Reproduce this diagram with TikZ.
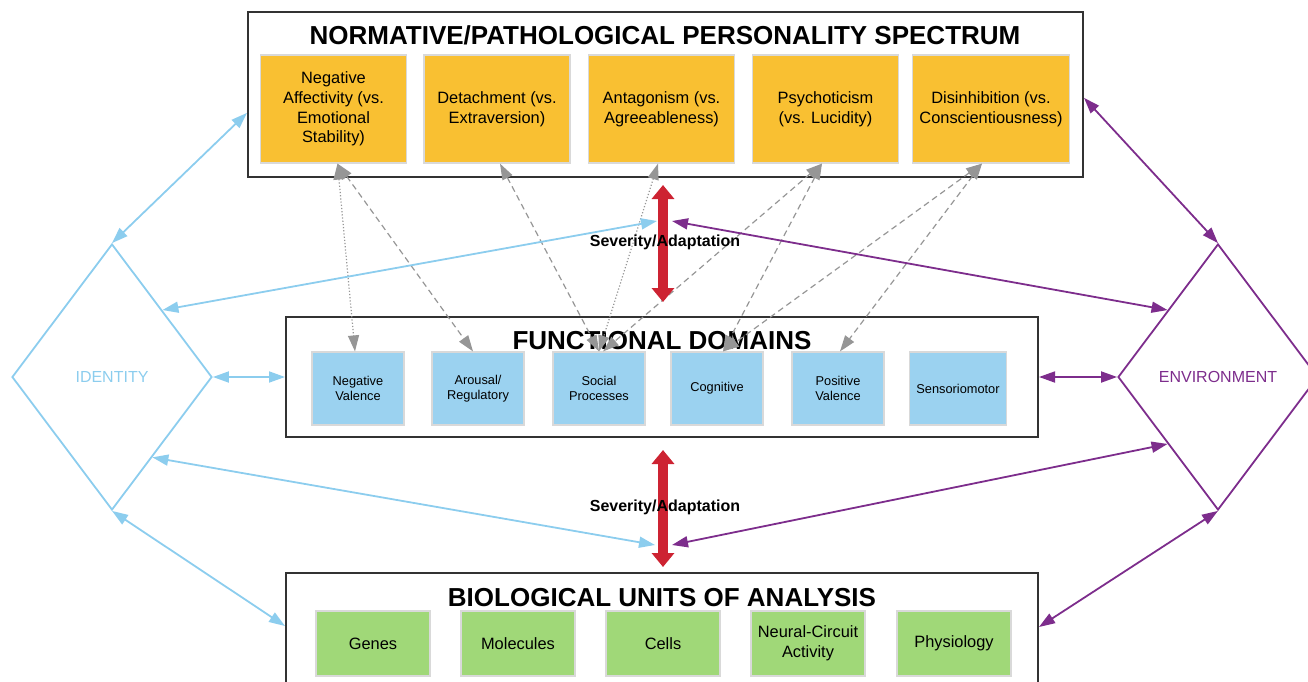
\documentclass[tikz,border=0pt]{standalone}
\usepackage{fontspec}
\setmainfont{Liberation Sans}
\usetikzlibrary{shapes.geometric,arrows.meta,calc}

\definecolor{traitfill}{RGB}{249,192,50}
\definecolor{domainfill}{RGB}{155,210,240}
\definecolor{unitfill}{RGB}{160,216,120}
\definecolor{idblue}{RGB}{140,205,238}
\definecolor{envpurple}{RGB}{125,45,140}
\definecolor{sevred}{RGB}{205,35,50}
\definecolor{linkgray}{RGB}{150,150,150}

\begin{document}
\begin{tikzpicture}[x=0.5pt,y=-0.5pt,
    framebox/.style={draw=black!80, line width=1pt, minimum width=376pt},
    heading/.style={font=\fontsize{13}{15}\selectfont\bfseries},
    traitbox/.style={fill=traitfill, draw=black!15, line width=0.6pt, minimum width=73pt, minimum height=54pt, align=center, font=\fontsize{8.2}{9.8}\selectfont},
    dombox/.style={fill=domainfill, draw=black!15, line width=0.6pt, minimum width=46pt, minimum height=36.5pt, align=center, font=\fontsize{6.4}{7.6}\selectfont},
    unitbox/.style={fill=unitfill, draw=black!15, line width=0.6pt, minimum width=57pt, minimum height=32.5pt, align=center, font=\fontsize{8.2}{9.8}\selectfont},
    ctxshape/.style={diamond, aspect=0.75, line width=0.9pt, minimum width=100pt, minimum height=133pt, font=\fontsize{8}{9}\selectfont},
    linkarrow/.style={<->, >={Triangle[length=8pt,width=5.5pt]}, draw=linkgray, line width=0.6pt, densely dashed},
    idarrow/.style={<->, >={Triangle[length=8pt,width=5.5pt]}, draw=idblue, line width=0.9pt},
    envarrow/.style={<->, >={Triangle[length=8pt,width=5.5pt]}, draw=envpurple, line width=0.9pt},
    sevarrow/.style={<->, >={Triangle[length=7pt,width=11pt]}, draw=sevred, line width=5pt},
    sevlabel/.style={font=\fontsize{8}{9}\selectfont\bfseries}]

  \useasboundingbox (0,0) rectangle (1308,681);
  \clip (0,0) rectangle (1308,681);

  % spectrum
  \node[framebox, minimum width=417.5pt, minimum height=82.5pt] (spectrum) at (665.5,94.5) {};
  \node[heading] (spectitle) at (665,35) {NORMATIVE/PATHOLOGICAL PERSONALITY SPECTRUM};
  \node[traitbox] (negaff) at (333.5,109) {Negative\\Affectivity (vs.\\Emotional\\Stability)};
  \node[traitbox] (detach) at (497,109) {Detachment (vs.\\Extraversion)};
  \node[traitbox] (antag)  at (661.5,109) {Antagonism (vs.\\Agreeableness)};
  \node[traitbox] (psycho) at (825.5,109) {Psychoticism\\(vs. Lucidity)};
  \node[traitbox] (disinh) at (991,109) {Disinhibition (vs.\\Conscientiousness)};

  % functional domains
  \node[framebox, minimum height=60pt] (domains) at (662,377) {};
  \node[heading] (domtitle) at (662,341) {FUNCTIONAL DOMAINS};
  \node[dombox] (negval)  at (358,388.5) {Negative\\Valence};
  \node[dombox] (arousal) at (478,388.5) {Arousal/\\Regulatory};
  \node[dombox] (social)  at (599,388.5) {Social\\Processes};
  \node[dombox] (cognit)  at (717,388.5) {Cognitive};
  \node[dombox] (posval)  at (838,388.5) {Positive\\Valence};
  \node[dombox] (sensor)  at (958,388.5) {Sensoriomotor};

  % biological units
  \node[framebox, minimum height=67pt] (biology) at (662,640) {};
  \node[heading] (biotitle) at (662,598) {BIOLOGICAL UNITS OF ANALYSIS};
  \node[unitbox] (genes)  at (373,643.5) {Genes};
  \node[unitbox] (molec)  at (518,643.5) {Molecules};
  \node[unitbox] (cells)  at (663,643.5) {Cells};
  \node[unitbox] (neural) at (808,643.5) {Neural-Circuit\\Activity};
  \node[unitbox] (physio) at (954,643.5) {Physiology};

  % identity / environment
  \node[ctxshape, draw=idblue, text=idblue] (identity) at (112,377) {IDENTITY};
  \node[ctxshape, draw=envpurple, text=envpurple] (environ) at (1218,377) {ENVIRONMENT};

  % trait <-> domain links
  \draw[linkarrow, densely dotted] ([xshift=2pt]negaff.south) -- ([xshift=-1.5pt]negval.north);
  \draw[linkarrow] ([xshift=2pt]negaff.south) -- ([xshift=-2.5pt]arousal.north);
  \draw[linkarrow] ([xshift=1.5pt]detach.south) -- (social.north);
  \draw[linkarrow, densely dotted] ([xshift=-1.75pt]antag.south) -- (social.north);
  \draw[linkarrow] ([xshift=-1.75pt]psycho.south) -- ([xshift=2pt]social.north);
  \draw[linkarrow] ([xshift=-1.75pt]psycho.south) -- ([xshift=3pt]cognit.north);
  \draw[linkarrow] ([xshift=-4.5pt]disinh.south) -- ([xshift=3pt]cognit.north);
  \draw[linkarrow] ([xshift=-4.5pt]disinh.south) -- ([xshift=1pt]posval.north);

  % severity / adaptation
  \coordinate (sevup1) at (663,185);
  \coordinate (sevdn1) at (663,302);
  \coordinate (sevup2) at (663,450);
  \coordinate (sevdn2) at (663,567);
  \draw[sevarrow] (sevup1) -- (sevdn1);
  \draw[sevarrow] (sevup2) -- (sevdn2);
  \node[sevlabel] (sev1) at (665,242) {Severity/Adaptation};
  \node[sevlabel] (sev2) at (665,507) {Severity/Adaptation};

  % identity links
  \coordinate (idhit1) at (657,221);
  \coordinate (idhit2) at (655,545);
  \draw[idarrow] (identity.north) -- ($(spectrum.north west)!0.61!(spectrum.south west)$);
  \draw[idarrow] (identity.north east) -- (idhit1);
  \draw[idarrow] (identity.east) -- (domains.west);
  \draw[idarrow] ($(identity.east)!0.6!(identity.south)$) -- (idhit2);
  \draw[idarrow] (identity.south) -- ($(biology.north west)+(0,54)$);

  % environment links
  \coordinate (envhit1) at (672,221);
  \coordinate (envhit2) at (672,545);
  \draw[envarrow] (environ.north) -- ($(spectrum.north east)!0.52!(spectrum.south east)$);
  \draw[envarrow] (environ.north west) -- (envhit1);
  \draw[envarrow] (environ.west) -- (domains.east);
  \draw[envarrow] (environ.south west) -- (envhit2);
  \draw[envarrow] (environ.south) -- ($(biology.north east)+(0,55)$);

\end{tikzpicture}
\end{document}
